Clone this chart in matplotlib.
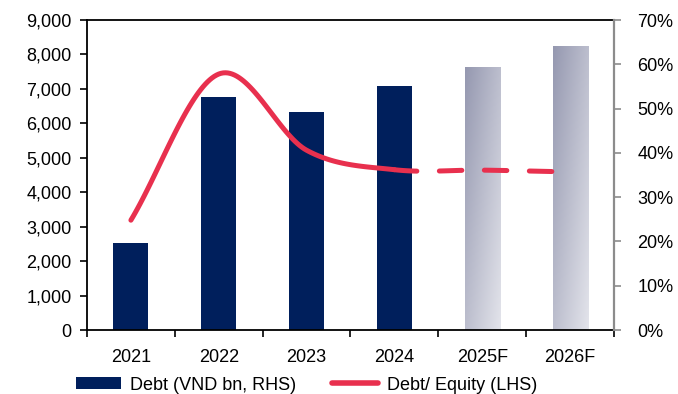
import numpy as np
import matplotlib
matplotlib.use('Agg')
import matplotlib.pyplot as plt
from matplotlib.patches import Patch
from matplotlib.lines import Line2D
from matplotlib.colors import LinearSegmentedColormap

plt.rcParams['font.family'] = ['Liberation Sans', 'DejaVu Sans']

years = ['2021', '2022', '2023', '2024', '2025F', '2026F']
debt = [2530, 6770, 6330, 7090, 7640, 8250]          # VND bn
debt_equity = [24.8, 57.8, 40.6, 36.2, 36.1, 35.7]   # %
n_actual = 4

navy = '#001f5c'
red = '#e8304e'


def smooth(xs, ys, steps=40):
    # catmull-rom curve through the points, like Excel's smoothed line
    xs = np.asarray(xs, float)
    ys = np.asarray(ys, float)
    px = np.concatenate([[2 * xs[0] - xs[1]], xs, [2 * xs[-1] - xs[-2]]])
    py = np.concatenate([[2 * ys[0] - ys[1]], ys, [2 * ys[-1] - ys[-2]]])
    outx, outy = [], []
    t = np.linspace(0, 1, steps)
    for i in range(1, len(px) - 2):
        for p, out in ((px, outx), (py, outy)):
            p0, p1, p2, p3 = p[i - 1], p[i], p[i + 1], p[i + 2]
            seg = 0.5 * ((2 * p1) + (-p0 + p2) * t + (2 * p0 - 5 * p1 + 4 * p2 - p3) * t ** 2
                         + (-p0 + 3 * p1 - 3 * p2 + p3) * t ** 3)
            out.extend(seg if i == 1 else seg[1:])
    return np.array(outx), np.array(outy)


fig = plt.figure(figsize=(6.78, 3.94), dpi=100)
ax = fig.add_axes([0.1283, 0.1624, 0.7773, 0.7868])
ax2 = ax.twinx()

x = np.arange(len(years))
w = 0.4
bars = ax.bar(x, debt, width=w, color=navy, zorder=2)

# forecast bars: diagonal grey gradient, dark top-left to pale bottom-right
grad = LinearSegmentedColormap.from_list('fc', ['#9598b0', '#e3e4eb'])
fx, fy = np.meshgrid(np.linspace(0, 1, 60), np.linspace(0, 1, 200))
shade = (fx + (1 - fy)) / 2
for i in range(n_actual, len(years)):
    b = bars[i]
    b.set_facecolor('none')
    img = ax.imshow(shade, cmap=grad, vmin=0, vmax=1, aspect='auto',
                    origin='lower', interpolation='bilinear',
                    extent=[x[i] - w / 2, x[i] + w / 2, 0, debt[i]], zorder=2)
    img.set_clip_path(b)

ax.set_xlim(-0.5, len(years) - 0.5)
ax.set_ylim(0, 9000)
ax.set_yticks(np.arange(0, 9001, 1000))
ax.set_yticklabels([f'{v:,}' for v in range(0, 9001, 1000)])
ax.set_xticks(x)
ax.set_xticklabels(years)
ax.set_xticks(np.arange(-0.5, len(years)), minor=True)
ax.tick_params(axis='x', which='major', length=0, labelsize=13, pad=14)
ax.tick_params(axis='x', which='minor', length=5, width=1.2, direction='out')
ax.tick_params(axis='y', length=5, width=1.2, labelsize=13, pad=6)

for s in ['left', 'bottom', 'top']:
    ax.spines[s].set_linewidth(1.3)
    ax.spines[s].set_color('black')
ax.spines['right'].set_visible(False)

sx, sy = smooth(x, debt_equity)
split = (n_actual - 1) * 39 + 1
ax2.plot(sx[:split], sy[:split], color=red, lw=3.6, solid_capstyle='round', zorder=3)
ax2.plot(sx[split - 1:], sy[split - 1:], color=red, lw=3.6, dash_capstyle='round',
         linestyle=(0, (4.5, 4.5)), zorder=3)
ax2.set_ylim(0, 70)
ax2.set_yticks(np.arange(0, 71, 10))
ax2.set_yticklabels([f'{v}%' for v in range(0, 71, 10)])
ax2.tick_params(axis='y', length=5, width=1.2, color='#8c8c8c', labelsize=13, pad=12)
for s in ['left', 'bottom', 'top']:
    ax2.spines[s].set_visible(False)
ax2.spines['right'].set_color('#8c8c8c')
ax2.spines['right'].set_linewidth(1.6)

handles = [Patch(facecolor=navy, edgecolor='none'),
           Line2D([0], [0], color=red, lw=4, solid_capstyle='round')]
fig.legend(handles, ['Debt (VND bn, RHS)', 'Debt/ Equity (LHS)'], loc='lower center',
           bbox_to_anchor=(0.452, -0.04), ncol=2, frameon=False, fontsize=13,
           handlelength=2.5, handleheight=0.6, columnspacing=2.0, handletextpad=0.5)

fig.savefig('out.png', dpi=100)
